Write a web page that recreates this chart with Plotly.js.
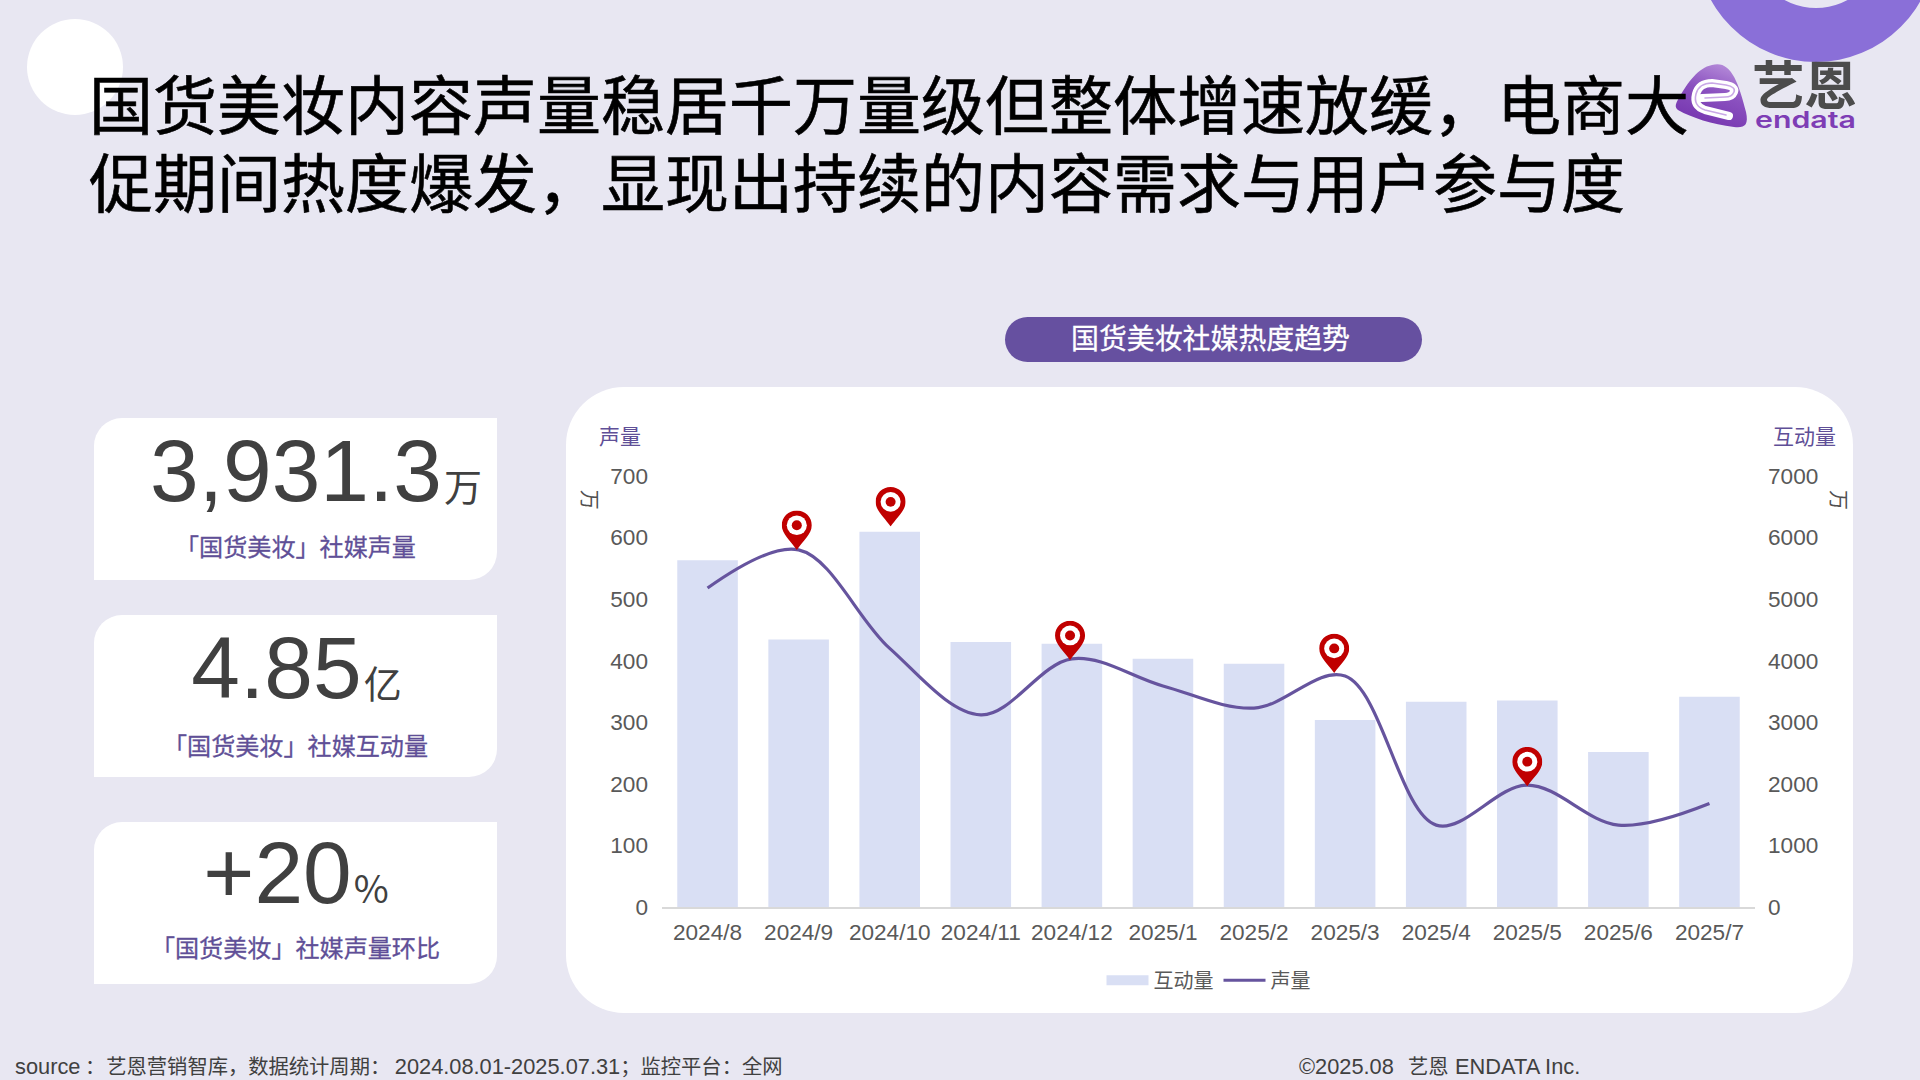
<!DOCTYPE html>
<html>
<head>
<meta charset="utf-8">
<script src="https://cdn.plot.ly/plotly-3.0.1.min.js"></script>
<style>
  html, body { margin: 0; padding: 0; }
  body { width: 1920px; height: 1080px; background: #E8E7F2; position: relative; overflow: hidden;
         font-family: "Liberation Sans", "Noto Sans CJK SC", sans-serif; }
  .abs { position: absolute; }
  .title { left: 89px; top: 62px; width: 1760px; font: 400 64px/78px "Noto Sans CJK SC", sans-serif; color: #000; z-index: 5; -webkit-text-stroke: 0.6px #000; }
  .pill { left: 1005px; top: 317px; width: 411px; padding-right: 6px; height: 45px; border-radius: 23px; background: #6650A0;
          color: #fff; text-align: center; font: 27.9px/41px "Noto Sans CJK SC", sans-serif; -webkit-text-stroke: 0.3px #fff; }
  .panel { left: 566px; top: 387px; width: 1287px; height: 626px; border-radius: 58px; background: #fff; }
  .card { left: 94px; width: 403px; height: 162px; background: #fff; border-radius: 28px 0 28px 0; }
  .big { position: absolute; left: 0; right: 0; top: 3px; text-align: center; font: 87.5px/100px "Liberation Sans", sans-serif; color: #404040; white-space: nowrap; }
  .big span { font: 38px "Noto Sans CJK SC", sans-serif; margin-left: 2px; }
  .lbl { position: absolute; left: 0; right: 0; text-align: center; font: 24.1px/34px "Noto Sans CJK SC", sans-serif; color: #5F4F97; white-space: nowrap; -webkit-text-stroke: 0.3px #5F4F97; }
  .foot { top: 1051px; font: 20.3px/28px "Noto Sans CJK SC", sans-serif; color: #404040; white-space: pre; }
  .foot b { font: 400 21.8px/28px "Liberation Sans", sans-serif; }
  #chart { left: 566px; top: 387px; width: 1287px; height: 626px; }
</style>
</head>
<body>
<div class="abs" style="left:27px;top:19px;width:96px;height:96px;border-radius:50%;background:#fff;"></div>
<svg class="abs" style="left:0;top:0;" width="1920" height="140">
  <defs>
    <linearGradient id="blob" x1="0.7" y1="0" x2="0.3" y2="1">
      <stop offset="0" stop-color="#B58BD9"/><stop offset="0.45" stop-color="#8A50BF"/><stop offset="1" stop-color="#7434AE"/>
    </linearGradient>
  </defs>
  <path fill-rule="evenodd" fill="#8A6FD8" d="M1696,-58a120,120 0 1,0 240,0a120,120 0 1,0 -240,0Z M1750,-58a66,66 0 1,0 132,0a66,66 0 1,0 -132,0Z"/>
  <path fill="url(#blob)" d="M1712,65C1730,60 1738,80 1746,112C1749,126 1744,128 1734,127C1712,124 1692,118 1678,110C1674,107 1676,103 1679,98C1688,82 1698,68 1712,65Z"/>
  <path fill="none" stroke="#fff" stroke-width="8" stroke-linejoin="round" stroke-linecap="round" d="M1729,116L1705,110Q1693,106 1696,94Q1699,83 1712,83L1726,85Q1736,87 1734,92Q1732,97 1725,97L1702,98"/>
  <path fill="none" stroke="#C9A8E6" stroke-width="1.6" stroke-linejoin="round" stroke-linecap="round" d="M1726,115L1705,110Q1693,106 1696,94Q1699,83 1712,83L1726,85Q1736,87 1734,92Q1732,97 1725,97L1705,98"/>
  <text x="1752" y="105" font-family="Noto Sans CJK SC" font-size="52.5" font-weight="700" fill="#4C4C4C">艺恩</text>
  <text x="1755" y="128" font-family="Inter" font-size="23" font-weight="600" fill="#7E3DB5" textLength="101" lengthAdjust="spacingAndGlyphs">endata</text>
</svg>
<div class="abs title">国货美妆内容声量稳居千万量级但整体增速放缓，电商大<br>促期间热度爆发，显现出持续的内容需求与用户参与度</div>
<div class="abs pill">国货美妆社媒热度趋势</div>
<div class="abs panel"></div>
<div class="abs card" style="top:418px"><div class="big" style="left:41px">3,931.3<span>万</span></div><div class="lbl" style="top:111px">「国货美妆」社媒声量</div></div>
<div class="abs card" style="top:615px"><div class="big" style="left:2px">4.85<span>亿</span></div><div class="lbl" style="top:113px">「国货美妆」社媒互动量</div></div>
<div class="abs card" style="top:822px"><div class="big" style="top:1px;left:1px">+20<span>%</span></div><div class="lbl" style="top:108px">「国货美妆」社媒声量环比</div></div>
<div class="abs foot" style="left:15px"><b>source</b> ：<span style="margin-left:1px">艺恩营销智库，数据统计周期：</span> <b>2024.08.01-2025.07.31</b>；监控平台：全网</div>
<div class="abs foot" style="left:1299px"><b>©2025.08</b><span style="margin-left:5px">  艺恩</span><span style="margin-left:2px"> </span><b>ENDATA Inc.</b></div>
<div class="abs" id="chart"></div>

<script>
var months = ['2024/8', '2024/9', '2024/10', '2024/11', '2024/12', '2025/1', '2025/2', '2025/3', '2025/4', '2025/5', '2025/6', '2025/7'];
var interactions = [5633, 4345, 6093, 4302, 4275, 4030, 3950, 3036, 3334, 3354, 2519, 3414];
var volume = [518, 580, 420, 312, 403, 359, 323, 375, 133, 198, 133, 168];
// pin tips: category position and value on the left axis
var pinPos = [0.98, 2.01, 3.98, 6.88, 9];
var pinVal = [580, 618, 401, 380, 196];

var pinSvg = '<svg xmlns="http://www.w3.org/2000/svg" viewBox="0 0 30 40">' +
  '<path fill="#C00000" d="M15 0C6.7 0 0 6.7 0 15C0 24 9 31 15 40C21 31 30 24 30 15C30 6.7 23.3 0 15 0Z"/>' +
  '<circle cx="15" cy="15" r="10" fill="#fff"/><circle cx="15" cy="15" r="5" fill="#C00000"/></svg>';
var pinSrc = 'data:image/svg+xml;utf8,' + encodeURIComponent(pinSvg);

var tickFont = { family: '"Liberation Sans", sans-serif', size: 22.6, color: '#595959' };
var cjk = '"Noto Sans CJK SC", sans-serif';
var barColor = '#D9DFF4';

var traces = [
  { type: 'bar', name: '互动量', x: months, y: interactions, yaxis: 'y', marker: { color: barColor }, showlegend: false },
  // legend only: gives the wide bar swatch the default bar symbol can't
  { type: 'scatter', mode: 'lines', name: '互动量', x: [null], y: [null], yaxis: 'y', line: { color: barColor, width: 15 } },
  { type: 'scatter', mode: 'lines', name: '声量', x: months, y: volume, yaxis: 'y2',
    line: { color: '#66549E', width: 3.2, shape: 'spline', smoothing: 1 } }
];

var layout = {
  width: 1287, height: 626,
  margin: { l: 95.5, r: 98.4, t: 89, b: 106 },
  paper_bgcolor: 'rgba(0,0,0,0)',
  plot_bgcolor: 'rgba(0,0,0,0)',
  bargap: 0.335,
  font: { family: cjk, color: '#595959' },
  xaxis: { type: 'category', tickfont: tickFont, showgrid: false, zeroline: false, showline: true,
           linecolor: '#D9D9D9', linewidth: 2, ticks: '', ticklabelstandoff: 4 },
  yaxis: { side: 'right', range: [0, 7000], dtick: 1000, tickfont: tickFont, showgrid: false, zeroline: false,
           showline: false, ticks: '', ticklabelstandoff: 12 },
  yaxis2: { side: 'left', overlaying: 'y', range: [0, 700], dtick: 100, tickfont: tickFont, showgrid: false,
            zeroline: false, showline: false, ticks: '', ticklabelstandoff: 13 },
  showlegend: true,
  legend: { orientation: 'h', x: 0.5, xanchor: 'center', y: -0.17, yanchor: 'middle', itemwidth: 42,
            font: { family: cjk, size: 20, color: '#595959' } },
  images: pinPos.map(function(p, i) {
    return { source: pinSrc, xref: 'x', yref: 'y2', x: p, y: pinVal[i], sizex: 0.33, sizey: 64,
             xanchor: 'center', yanchor: 'bottom', sizing: 'stretch', layer: 'above' };
  }),
  annotations: [
    { text: '声量', xref: 'paper', yref: 'paper', x: -0.0385, y: 1.094, showarrow: false, xanchor: 'center', yanchor: 'middle',
      font: { family: cjk, size: 21, color: '#5F4F97' } },
    { text: '互动量', xref: 'paper', yref: 'paper', x: 1.0455, y: 1.094, showarrow: false, xanchor: 'center', yanchor: 'middle',
      font: { family: cjk, size: 21, color: '#5F4F97' } },
    { text: '万', xref: 'paper', yref: 'paper', x: -0.066, y: 0.945, showarrow: false, textangle: 90, xanchor: 'center', yanchor: 'middle',
      font: { family: cjk, size: 20, color: '#505050' } },
    { text: '万', xref: 'paper', yref: 'paper', x: 1.0775, y: 0.945, showarrow: false, textangle: 90, xanchor: 'center', yanchor: 'middle',
      font: { family: cjk, size: 20, color: '#505050' } }
  ]
};

Plotly.newPlot('chart', traces, layout, { displayModeBar: false });
</script>
</body>
</html>
